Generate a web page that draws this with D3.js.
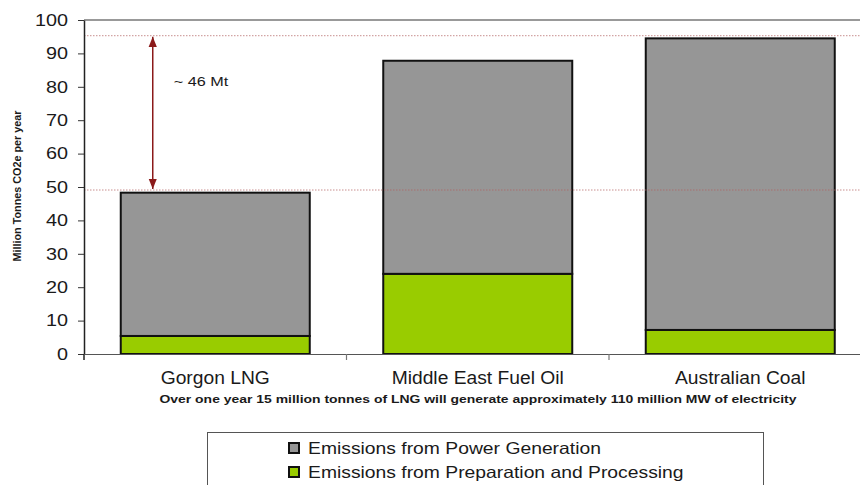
<!DOCTYPE html>
<html>
<head>
<meta charset="utf-8">
<script src="https://cdn.jsdelivr.net/npm/d3@7"></script>
<style>
  body { margin: 0; background: #fff; }
  text { font-family: "Liberation Sans", Arial, sans-serif; fill: #1a1a1a; }
</style>
</head>
<body>
<svg id="chart"></svg>
<script>
// data
const categories = ["Gorgon LNG", "Middle East Fuel Oil", "Australian Coal"];
const preparation = [5.4, 24.0, 7.2];        // green, bottom
const powerGen    = [42.9, 63.8, 87.3];      // grey, on top
const seriesNames = ["Emissions from Power Generation", "Emissions from Preparation and Processing"];
const seriesColors = ["#969696", "#99cc00"];
const yTicks = [0, 10, 20, 30, 40, 50, 60, 70, 80, 90, 100];
const refLines = [95.3, 49.1];
const annotation = "~ 46 Mt";
const yLabel = "Million Tonnes CO2e per year";
const subtitle = "Over one year 15 million tonnes of LNG will generate approximately 110 million MW of electricity";

const W = 860, H = 485;
const margin = { top: 20, left: 84, bottom: 354, right: 871.5 };

const svg = d3.select("#chart").attr("width", W).attr("height", H);

// stretch glyphs sideways, the source picture is a bit wide
function stretch(sel, sx) {
  sel.each(function() {
    const w = this.getComputedTextLength();
    d3.select(this).attr("textLength", w * sx).attr("lengthAdjust", "spacingAndGlyphs");
  });
}

const x = d3.scaleBand()
  .domain(categories)
  .range([margin.left, margin.right])
  .paddingInner(0.28)
  .paddingOuter(0.14);

const y = d3.scaleLinear().domain([0, 100]).range([margin.bottom, margin.top]);

// stacked data
const rows = categories.map((c, i) => ({ cat: c, prep: preparation[i], power: powerGen[i] }));
const stack = d3.stack().keys(["prep", "power"])(rows);

// grey line at the top of the plot
svg.append("line")
  .attr("x1", margin.left).attr("x2", W)
  .attr("y1", y(100)).attr("y2", y(100))
  .attr("stroke", "#999").attr("stroke-width", 2);

// bars
const layerColor = { prep: seriesColors[1], power: seriesColors[0] };
svg.selectAll("g.layer")
  .data(stack)
  .enter().append("g")
  .attr("class", "layer")
  .attr("fill", d => layerColor[d.key])
  .selectAll("rect")
  .data(d => d)
  .enter().append("rect")
  .attr("x", d => x(d.data.cat))
  .attr("y", d => y(d[1]))
  .attr("width", x.bandwidth())
  .attr("height", d => y(d[0]) - y(d[1]))
  .attr("stroke", "#111")
  .attr("stroke-width", 2);

// dotted reference lines
svg.selectAll("line.ref")
  .data(refLines)
  .enter().append("line")
  .attr("class", "ref")
  .attr("x1", margin.left).attr("x2", W)
  .attr("y1", d => y(d)).attr("y2", d => y(d))
  .attr("stroke", "#b06060")
  .attr("stroke-opacity", 0.7)
  .attr("stroke-width", 1)
  .attr("stroke-dasharray", "1.5,1.5");

// double arrow
const defs = svg.append("defs");
defs.append("marker")
  .attr("id", "arr")
  .attr("viewBox", "0 0 10 10")
  .attr("refX", 10).attr("refY", 5)
  .attr("markerWidth", 7).attr("markerHeight", 7)
  .attr("orient", "auto-start-reverse")
  .append("path")
  .attr("d", "M0,1 L10,5 L0,9 Z")
  .attr("fill", "#8b1a1a");

const arrowX = x(categories[0]) + 32;
svg.append("line")
  .attr("x1", arrowX).attr("x2", arrowX)
  .attr("y1", y(refLines[0]) + 1).attr("y2", y(refLines[1]) - 1)
  .attr("stroke", "#8b1a1a").attr("stroke-width", 1.5)
  .attr("marker-start", "url(#arr)")
  .attr("marker-end", "url(#arr)");

svg.append("text")
  .attr("x", arrowX + 21)
  .attr("y", 86)
  .attr("font-size", 13.5)
  .text(annotation)
  .call(stretch, 1.2);

// y axis
const yAxis = svg.append("g")
  .attr("transform", `translate(${margin.left},0)`)
  .call(d3.axisLeft(y).tickValues(yTicks).tickSize(6).tickPadding(10).tickSizeOuter(0));
yAxis.select(".domain").attr("stroke", "#222").attr("stroke-width", 1.5);
yAxis.selectAll(".tick line").attr("stroke", "#333");
yAxis.selectAll(".tick text")
  .attr("font-size", 16.5)
  .attr("font-family", "Liberation Sans, Arial, sans-serif")
  .attr("fill", "#1a1a1a")
  .call(stretch, 1.2);
svg.append("line")
  .attr("x1", margin.left).attr("x2", margin.left)
  .attr("y1", y(0)).attr("y2", y(0) + 6)
  .attr("stroke", "#222").attr("stroke-width", 1.5);

// x axis
const xAxis = svg.append("g")
  .attr("transform", `translate(0,${margin.bottom})`)
  .call(d3.axisBottom(x).tickSize(0).tickPadding(18).tickSizeOuter(0));
xAxis.select(".domain").attr("stroke", "#555").attr("stroke-width", 1.2);
xAxis.selectAll(".tick text")
  .attr("font-size", 17.5)
  .attr("font-family", "Liberation Sans, Arial, sans-serif")
  .attr("fill", "#1a1a1a")
  .call(stretch, 1.1);

// small ticks between categories
const step = x.step();
svg.selectAll("line.cattick")
  .data(categories.slice(1))
  .enter().append("line")
  .attr("class", "cattick")
  .attr("x1", d => x(d) - step * x.paddingInner() / 2)
  .attr("x2", d => x(d) - step * x.paddingInner() / 2)
  .attr("y1", margin.bottom).attr("y2", margin.bottom + 6)
  .attr("stroke", "#777").attr("stroke-width", 1.2);

// y label
svg.append("text")
  .attr("transform", `translate(21,186) rotate(-90)`)
  .attr("text-anchor", "middle")
  .attr("font-size", 10.8)
  .attr("font-weight", "bold")
  .text(yLabel);

// subtitle
svg.append("text")
  .attr("x", 478)
  .attr("y", 403)
  .attr("text-anchor", "middle")
  .attr("font-size", 11)
  .attr("font-weight", "bold")
  .attr("textLength", 637)
  .attr("lengthAdjust", "spacingAndGlyphs")
  .text(subtitle);

// legend
const legend = svg.append("g");
legend.append("rect")
  .attr("x", 207.5).attr("y", 432.5)
  .attr("width", 556).attr("height", 70)
  .attr("fill", "none").attr("stroke", "#555").attr("stroke-width", 1);

const items = legend.selectAll("g.item")
  .data(seriesNames)
  .enter().append("g")
  .attr("class", "item")
  .attr("transform", (d, i) => `translate(289,${448 + i * 24})`);
items.append("rect")
  .attr("x", 0).attr("y", -5)
  .attr("width", 10).attr("height", 10)
  .attr("fill", (d, i) => seriesColors[i])
  .attr("stroke", "#111").attr("stroke-width", 2);
items.append("text")
  .attr("x", 19).attr("y", 6)
  .attr("font-size", 16.5)
  .text(d => d)
  .call(stretch, 1.17);
</script>
</body>
</html>
